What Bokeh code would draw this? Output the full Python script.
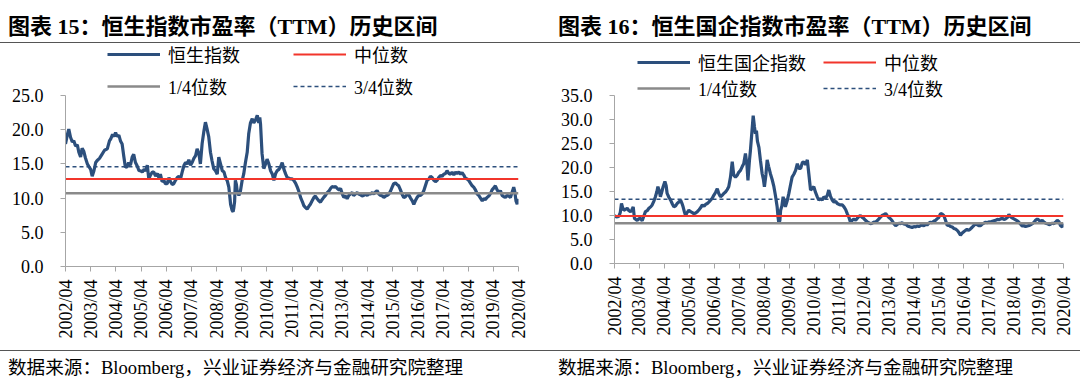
from math import pi
from bokeh.plotting import figure
from bokeh.models import (Range1d, FixedTicker, PrintfTickFormatter, Legend,
                          LegendItem, Div)
from bokeh.layouts import row, column
from bokeh.embed import file_html
from bokeh.resources import INLINE

# ---------------- data ----------------
# Hang Seng Index PE (TTM), time in decimal years
hsi_t = [2002.25, 2002.32, 2002.38, 2002.45, 2002.52, 2002.58, 2002.65, 2002.72, 2002.78, 2002.85,
         2002.91, 2002.98, 2003.04, 2003.12, 2003.18, 2003.25, 2003.31, 2003.38, 2003.45, 2003.51,
         2003.6, 2003.7, 2003.8, 2003.91, 2004.0, 2004.04, 2004.12, 2004.18, 2004.24, 2004.3,
         2004.37, 2004.44, 2004.5, 2004.57, 2004.63, 2004.7, 2004.76, 2004.83, 2004.9, 2004.96,
         2005.03, 2005.1, 2005.17, 2005.23, 2005.3, 2005.37, 2005.44, 2005.5, 2005.56, 2005.63,
         2005.7, 2005.76, 2005.83, 2005.9, 2005.96, 2006.02, 2006.09, 2006.16, 2006.22, 2006.29,
         2006.36, 2006.42, 2006.49, 2006.55, 2006.62, 2006.69, 2006.76, 2006.82, 2006.9, 2006.96,
         2007.02, 2007.09, 2007.15, 2007.22, 2007.28, 2007.35, 2007.42, 2007.48, 2007.55, 2007.61,
         2007.68, 2007.75, 2007.81, 2007.87, 2007.94, 2008.01, 2008.07, 2008.14, 2008.21, 2008.28,
         2008.34, 2008.41, 2008.48, 2008.55, 2008.61, 2008.68, 2008.74, 2008.78, 2008.81, 2008.87,
         2008.91, 2008.94, 2008.97, 2009.0, 2009.04, 2009.07, 2009.14, 2009.2, 2009.27, 2009.33,
         2009.4, 2009.47, 2009.53, 2009.6, 2009.67, 2009.73, 2009.8, 2009.87, 2009.93, 2009.97,
         2010.0, 2010.06, 2010.13, 2010.2, 2010.26, 2010.33, 2010.4, 2010.47, 2010.53, 2010.6,
         2010.66, 2010.73, 2010.8, 2010.86, 2010.93, 2011.0, 2011.06, 2011.13, 2011.19, 2011.26,
         2011.32, 2011.39, 2011.46, 2011.52, 2011.59, 2011.66, 2011.72, 2011.79, 2011.85, 2011.92,
         2011.98, 2012.05, 2012.12, 2012.18, 2012.25, 2012.32, 2012.38, 2012.45, 2012.51, 2012.58,
         2012.65, 2012.71, 2012.78, 2012.85, 2012.91, 2012.98, 2013.05, 2013.12, 2013.18, 2013.25,
         2013.31, 2013.38, 2013.44, 2013.51, 2013.57, 2013.64, 2013.7, 2013.77, 2013.84, 2013.9,
         2013.97, 2014.04, 2014.1, 2014.17, 2014.24, 2014.3, 2014.37, 2014.44, 2014.5, 2014.57,
         2014.63, 2014.7, 2014.77, 2014.84, 2014.9, 2014.97, 2015.04, 2015.1, 2015.16, 2015.23,
         2015.29, 2015.36, 2015.42, 2015.49, 2015.56, 2015.62, 2015.69, 2015.76, 2015.83, 2015.9,
         2015.96, 2016.03, 2016.09, 2016.15, 2016.22, 2016.29, 2016.35, 2016.42, 2016.49, 2016.55,
         2016.62, 2016.69, 2016.75, 2016.82, 2016.89, 2016.95, 2017.02, 2017.08, 2017.15, 2017.22,
         2017.28, 2017.35, 2017.41, 2017.48, 2017.55, 2017.61, 2017.68, 2017.75, 2017.81, 2017.88,
         2017.95, 2018.01, 2018.07, 2018.14, 2018.21, 2018.27, 2018.34, 2018.41, 2018.47, 2018.54,
         2018.61, 2018.67, 2018.74, 2018.81, 2018.87, 2018.94, 2019.0, 2019.07, 2019.14, 2019.2,
         2019.27, 2019.33, 2019.4, 2019.47, 2019.53, 2019.6, 2019.67, 2019.73, 2019.8, 2019.86,
         2019.93, 2019.99, 2020.06, 2020.1, 2020.15, 2020.2, 2020.25]
hsi_pe = [17.9, 19.2, 20.1, 18.9, 18.2, 18.4, 17.6, 17.8, 16.7, 16.0,
          17.3, 16.8, 15.9, 15.0, 14.6, 14.2, 13.2, 14.0, 15.2, 15.5,
          15.8, 16.4, 17.0, 17.2, 18.4, 18.6, 19.3, 19.0, 19.6, 19.0,
          19.2, 18.3, 17.9, 16.0, 14.5, 14.6, 15.2, 14.8, 16.0, 16.4,
          15.2, 14.7, 14.0, 14.0, 13.8, 14.2, 14.0, 14.8, 12.8, 13.4,
          13.8, 13.8, 13.2, 13.6, 13.0, 13.5, 12.4, 12.6, 12.1, 12.1,
          13.0, 12.4, 12.0, 12.1, 12.6, 13.0, 13.2, 12.8, 14.0, 14.8,
          15.2, 15.0, 15.6, 14.8, 15.2, 15.8, 16.2, 17.2, 16.5, 15.0,
          18.0, 19.8, 21.1, 20.2, 19.0, 16.7, 15.5, 14.3, 14.0, 13.5,
          16.0, 15.0, 14.0, 13.8, 13.0, 12.5, 11.6, 10.2, 9.1, 8.2,
          8.0, 8.6, 9.5, 12.6, 12.0, 11.1, 10.4, 11.0, 12.6, 13.5,
          15.2, 16.7, 19.4, 21.0, 21.6, 21.0, 21.4, 22.1, 21.0, 21.8,
          20.8, 16.5, 14.3, 15.0, 15.7, 15.0, 14.0, 13.5, 12.6, 13.6,
          14.0, 14.2, 14.6, 15.2, 14.2, 13.5, 13.0, 12.9, 12.8, 12.8,
          12.6, 12.2, 11.6, 11.0, 10.1, 9.5, 8.9, 8.6, 8.4, 8.8,
          9.1, 9.6, 10.1, 10.3, 9.9, 9.6, 9.4, 9.8, 10.1, 10.4,
          10.8, 11.0, 11.4, 11.7, 11.6, 11.7, 11.4, 11.2, 11.4, 10.6,
          10.1, 10.3, 9.9, 10.4, 10.6, 10.8, 10.4, 10.6, 10.8, 10.6,
          10.5, 10.3, 10.4, 10.6, 10.4, 10.6, 10.6, 10.8, 10.6, 10.9,
          11.1, 10.6, 10.4, 10.3, 10.1, 10.3, 10.4, 10.6, 11.0, 11.6,
          12.1, 12.2, 12.0, 11.8, 11.2, 10.6, 10.1, 10.2, 10.6, 10.4,
          10.0, 9.6, 9.1, 9.6, 10.1, 10.4, 10.4, 10.6, 11.1, 11.8,
          12.6, 12.8, 13.2, 13.0, 12.6, 12.4, 12.6, 13.0, 13.3, 13.2,
          13.5, 13.6, 14.0, 13.6, 13.5, 13.8, 13.4, 13.8, 13.6, 13.8,
          13.5, 13.7, 13.4, 12.9, 12.8, 12.6, 12.2, 11.8, 11.6, 11.2,
          10.6, 10.4, 10.0, 9.6, 9.9, 9.8, 10.1, 10.3, 10.7, 11.2,
          11.5, 11.8, 11.2, 10.8, 11.1, 10.4, 10.2, 10.1, 10.4, 10.3,
          10.1, 10.8, 11.6, 11.0, 9.6, 9.1, 9.9]
hsi_quant = [10.7, 12.8, 14.6]   # 1/4, median, 3/4

# Hang Seng China Enterprises Index PE (TTM)
hscei_t = [2002.25, 2002.33, 2002.42, 2002.48, 2002.53, 2002.58, 2002.62, 2002.7, 2002.76, 2002.83,
           2002.89, 2002.95, 2003.0, 2003.05, 2003.1, 2003.16, 2003.22, 2003.29, 2003.36, 2003.42,
           2003.49, 2003.56, 2003.63, 2003.7, 2003.76, 2003.83, 2003.89, 2003.95, 2003.99, 2004.04,
           2004.09, 2004.15, 2004.2, 2004.27, 2004.32, 2004.36, 2004.43, 2004.5, 2004.57, 2004.63,
           2004.7, 2004.76, 2004.83, 2004.9, 2004.95, 2005.0, 2005.05, 2005.1, 2005.16, 2005.23,
           2005.3, 2005.37, 2005.43, 2005.5, 2005.57, 2005.64, 2005.7, 2005.77, 2005.84, 2005.9,
           2005.97, 2006.03, 2006.1, 2006.17, 2006.23, 2006.3, 2006.37, 2006.43, 2006.5, 2006.57,
           2006.63, 2006.7, 2006.77, 2006.83, 2006.9, 2006.97, 2007.03, 2007.1, 2007.17, 2007.23,
           2007.3, 2007.37, 2007.43, 2007.5, 2007.56, 2007.6, 2007.66, 2007.7, 2007.76, 2007.81,
           2007.86, 2007.9, 2007.94, 2007.98, 2008.04, 2008.1, 2008.17, 2008.22, 2008.26, 2008.32,
           2008.37, 2008.43, 2008.5, 2008.57, 2008.64, 2008.7, 2008.77, 2008.81, 2008.84, 2008.88,
           2008.91, 2008.96, 2009.01, 2009.06, 2009.1, 2009.17, 2009.24, 2009.3, 2009.37, 2009.44,
           2009.51, 2009.58, 2009.64, 2009.71, 2009.78, 2009.84, 2009.91, 2009.98, 2010.04, 2010.11,
           2010.17, 2010.24, 2010.31, 2010.38, 2010.44, 2010.51, 2010.58, 2010.64, 2010.71, 2010.78,
           2010.84, 2010.91, 2010.98, 2011.05, 2011.12, 2011.18, 2011.25, 2011.31, 2011.38, 2011.45,
           2011.52, 2011.58, 2011.65, 2011.71, 2011.78, 2011.85, 2011.92, 2011.98, 2012.05, 2012.11,
           2012.18, 2012.24, 2012.31, 2012.38, 2012.44, 2012.51, 2012.58, 2012.65, 2012.71, 2012.78,
           2012.85, 2012.92, 2012.98, 2013.05, 2013.12, 2013.18, 2013.25, 2013.32, 2013.38, 2013.45,
           2013.52, 2013.58, 2013.65, 2013.72, 2013.78, 2013.85, 2013.92, 2013.98, 2014.05, 2014.12,
           2014.18, 2014.25, 2014.32, 2014.38, 2014.45, 2014.52, 2014.58, 2014.65, 2014.72, 2014.78,
           2014.85, 2014.92, 2014.98, 2015.05, 2015.12, 2015.18, 2015.25, 2015.32, 2015.38, 2015.45,
           2015.52, 2015.59, 2015.65, 2015.72, 2015.79, 2015.85, 2015.92, 2015.99, 2016.05, 2016.12,
           2016.18, 2016.25, 2016.32, 2016.38, 2016.45, 2016.52, 2016.58, 2016.65, 2016.72, 2016.78,
           2016.85, 2016.93, 2016.99, 2017.06, 2017.13, 2017.2, 2017.26, 2017.33, 2017.4, 2017.46,
           2017.53, 2017.6, 2017.66, 2017.73, 2017.8, 2017.86, 2017.93, 2018.0, 2018.06, 2018.12,
           2018.19, 2018.26, 2018.33, 2018.4, 2018.46, 2018.53, 2018.6, 2018.67, 2018.73, 2018.8,
           2018.87, 2018.94, 2019.0, 2019.07, 2019.13, 2019.2, 2019.27, 2019.33, 2019.4, 2019.47,
           2019.53, 2019.6, 2019.67, 2019.73, 2019.8, 2019.87, 2019.93, 2020.0, 2020.07, 2020.13,
           2020.2, 2020.25]
hscei_pe = [10.0, 9.7, 9.8, 10.6, 12.5, 11.6, 11.1, 11.3, 11.5, 11.0,
            10.8, 11.2, 11.8, 9.4, 9.2, 9.0, 9.3, 9.4, 8.9, 9.8,
            10.8, 11.0, 11.5, 11.8, 12.2, 13.0, 13.9, 15.0, 16.0, 15.2,
            13.9, 15.0, 16.0, 17.1, 16.2, 14.6, 13.8, 13.2, 12.4, 11.8,
            12.0, 12.5, 12.8, 13.2, 12.6, 11.8, 10.8, 10.0, 10.6, 11.1,
            10.8, 10.6, 10.4, 10.5, 10.8, 11.2, 11.6, 12.2, 11.9, 12.3,
            12.5, 12.8, 13.2, 13.6, 14.2, 14.8, 15.6, 14.6, 13.9, 14.2,
            14.6, 14.9, 15.4, 16.0, 18.0, 21.2, 18.4, 18.0, 18.4, 19.0,
            19.4, 20.2, 20.8, 22.9, 20.5, 17.3, 21.5, 23.6, 27.5, 30.8,
            28.5, 27.0, 27.7, 25.5, 24.2, 21.5, 18.7, 17.5, 16.0, 18.5,
            21.6, 20.2, 18.7, 17.5, 16.0, 14.2, 11.8, 9.5, 8.3, 9.0,
            11.1, 12.0, 13.9, 12.8, 11.8, 13.0, 14.6, 16.2, 18.0, 18.6,
            19.4, 20.8, 19.8, 19.8, 21.0, 21.2, 20.6, 21.6, 18.7, 15.3,
            15.6, 16.0, 14.8, 13.9, 13.2, 13.5, 13.2, 13.9, 13.6, 14.2,
            15.3, 14.0, 13.2, 12.8, 12.9, 12.5, 12.3, 12.2, 12.2, 11.8,
            11.2, 10.4, 9.6, 8.6, 9.0, 9.3, 9.0, 9.4, 9.8, 10.0,
            9.6, 9.4, 9.0, 8.7, 8.5, 8.3, 8.4, 8.6, 8.6, 8.9,
            9.3, 9.7, 10.0, 10.2, 10.4, 10.0, 9.6, 9.3, 8.9, 8.3,
            7.9, 8.1, 8.4, 8.3, 8.5, 8.2, 8.3, 7.9, 7.7, 7.6,
            7.5, 7.7, 7.6, 7.8, 7.7, 7.9, 8.1, 7.8, 8.3, 8.0,
            8.4, 8.6, 8.5, 8.8, 9.0, 9.3, 9.6, 10.4, 10.3, 10.0,
            9.0, 7.9, 8.0, 7.7, 7.6, 7.3, 7.2, 6.9, 6.5, 5.9,
            6.3, 6.6, 6.9, 7.1, 6.9, 7.2, 7.5, 7.9, 8.3, 8.1,
            7.9, 7.9, 8.2, 8.4, 8.6, 8.5, 8.7, 8.6, 8.8, 8.9,
            9.0, 9.2, 9.1, 9.3, 9.4, 9.2, 9.3, 9.6, 10.2, 9.8,
            9.5, 9.3, 9.1, 8.9, 8.6, 8.2, 7.8, 7.9, 7.7, 7.8,
            7.9, 8.1, 8.3, 8.6, 9.0, 9.3, 9.0, 8.8, 9.0, 8.6,
            8.4, 8.3, 8.1, 8.2, 8.4, 8.3, 8.6, 9.0, 8.7, 7.9,
            7.6, 8.3]
hscei_quant = [8.4, 9.9, 13.4]   # 1/4, median, 3/4

tick_years = list(range(2002, 2021))
tick_labels = [f"{y}/04" for y in tick_years]
quant_names = ["1/4位数", "中位数", "3/4位数"]

# ---------------- style ----------------
BLUE = "#2C4F7C"
RED = "#F2352B"
GRAY = "#8A8A8A"
AXIS = "#A6A6A6"
FONT = "Liberation Serif, Noto Sans CJK SC"
CSS_FONT = "'Liberation Serif', 'Noto Sans CJK SC', serif"

FIG_W, FIG_H = 540, 307


def panel(title, name, t, pe, quant, ymax, b_left, b_right, b_bottom, axis_px,
          leg_x, leg_y, spacing, label_w, pad_left):
    head = Div(text=title, width=FIG_W, height=43, margin=0,
               styles={"font-size": "22px", "font-weight": "bold", "font-family": CSS_FONT,
                       "line-height": "24px", "padding-top": "15px",
                       "border-bottom": "1px solid #555", "box-sizing": "border-box",
                       "padding-left": f"{pad_left}px", "color": "#000",
                       "white-space": "nowrap", "overflow": "hidden"})
    foot = Div(text="数据来源：Bloomberg，兴业证券经济与金融研究院整理", width=FIG_W, height=30,
               margin=0,
               styles={"font-size": "18.6px", "font-family": CSS_FONT, "line-height": "20px",
                       "padding-top": "7px", "border-top": "1px solid #555",
                       "box-sizing": "border-box", "padding-left": f"{pad_left}px",
                       "color": "#000", "white-space": "nowrap", "overflow": "hidden"})

    tick_pos = [y + 0.25 for y in tick_years]
    frame_h = FIG_H - b_bottom
    # frame extends above the value axis to hold the legend; axis bounded to [0, ymax]
    y_top = ymax * frame_h / axis_px
    p = figure(width=FIG_W, height=FIG_H, output_backend="svg", toolbar_location=None,
               x_range=Range1d(tick_pos[0], tick_pos[-1]), y_range=Range1d(0, y_top),
               min_border_left=b_left, min_border_right=b_right, min_border_top=0,
               min_border_bottom=b_bottom, outline_line_color=None, margin=0)
    p.grid.visible = False

    r_main = p.line(t, pe, line_color=BLUE, line_width=3.2)
    x_ends = [t[0], t[-1]]
    r_q1 = p.line(x_ends, [quant[0]] * 2, line_color=GRAY, line_width=2.5)
    r_med = p.line(x_ends, [quant[1]] * 2, line_color=RED, line_width=2)
    r_q3 = p.line(x_ends, [quant[2]] * 2, line_color=BLUE, line_width=1.5, line_dash="4 3")

    xa = p.xaxis[0]
    xa.ticker = FixedTicker(ticks=tick_pos, minor_ticks=[])
    xa.major_label_overrides = {tp: lab for tp, lab in zip(tick_pos, tick_labels)}
    xa.major_label_orientation = pi / 2
    xa.major_label_standoff = 8
    ya = p.yaxis[0]
    ya.ticker = FixedTicker(ticks=list(range(0, ymax + 1, 5)), minor_ticks=[])
    ya.formatter = PrintfTickFormatter(format="%.1f")
    ya.major_label_standoff = 17
    ya.bounds = (0, ymax)
    for ax in (xa, ya):
        ax.axis_line_color = AXIS
        ax.major_tick_line_color = AXIS
        ax.major_tick_in = 0
        ax.major_tick_out = 5
        ax.minor_tick_line_color = None
        ax.major_label_text_font = FONT
        ax.major_label_text_font_size = "18px"
        ax.major_label_text_color = "#000"

    legend = Legend(items=[LegendItem(label=name, renderers=[r_main]),
                           LegendItem(label=quant_names[1], renderers=[r_med]),
                           LegendItem(label=quant_names[0], renderers=[r_q1]),
                           LegendItem(label=quant_names[2], renderers=[r_q3])],
                    location=(leg_x, leg_y), orientation="horizontal", ncols=2,
                    glyph_width=53, glyph_height=20, label_height=20, label_width=label_w,
                    label_standoff=8, spacing=spacing, padding=0, margin=0,
                    border_line_color=None, background_fill_alpha=0,
                    label_text_font=FONT, label_text_font_size="18px",
                    label_text_color="#000")
    p.add_layout(legend)
    return column(head, p, foot, spacing=0)


left = panel("图表 15：恒生指数市盈率（TTM）历史区间", "恒生指数", hsi_t, hsi_pe, hsi_quant, 25,
             65, 22, 84, 171, 42, 167, 6, 119, 8)
right = panel("图表 16：恒生国企指数市盈率（TTM）历史区间", "恒生国企指数", hscei_t, hscei_pe,
              hscei_quant, 35, 74, 17, 87, 168, 23, 162, 0, 125, 18)

layout = row(left, right, spacing=0)
open("out.html", "w").write(file_html(layout, INLINE))
